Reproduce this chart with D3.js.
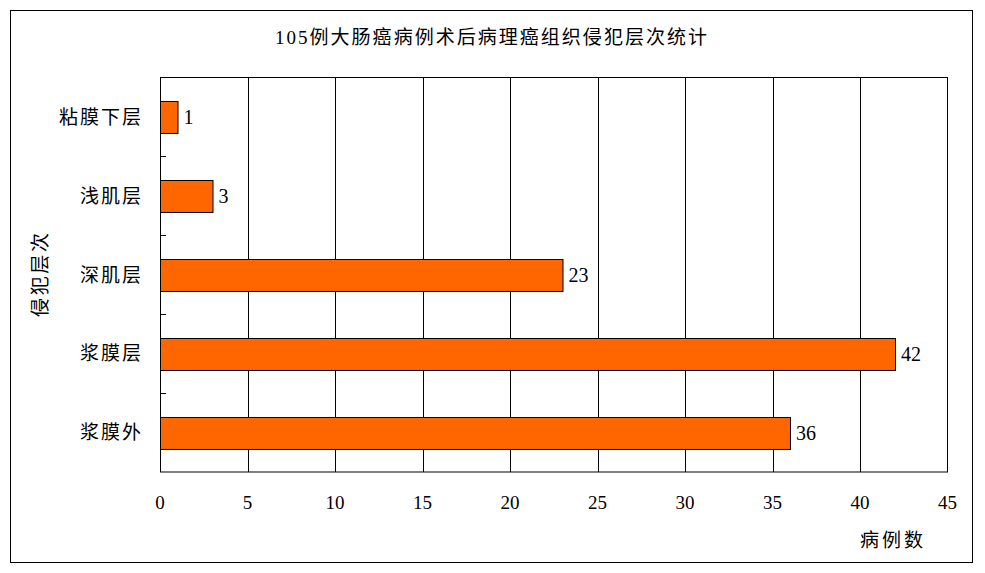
<!DOCTYPE html>
<html>
<head>
<meta charset="utf-8">
<script src="https://cdn.jsdelivr.net/npm/d3@7/dist/d3.min.js"></script>
<style>
    body { margin: 0; background: #fff; }
    text { font-family: "Liberation Serif", "Noto Sans CJK SC", serif; fill: #000; }
</style>
</head>
<body>
<div id="chart"></div>
<script>
var categories = ["粘膜下层", "浅肌层", "深肌层", "浆膜层", "浆膜外"];
var values = [1, 3, 23, 42, 36];
var xTicks = [0, 5, 10, 15, 20, 25, 30, 35, 40, 45];
var title = "105例大肠癌病例术后病理癌组织侵犯层次统计";

function init() {
    var w = 985;
    var h = 573;
    var left = 160, right = 947.5, top = 77.5, bottom = 472;

    var svg = d3.select("#chart")
        .append("svg")
        .attr("width", w)
        .attr("height", h);

    // outer frame
    svg.append("rect")
        .attr("x", 10.5).attr("y", 10.5)
        .attr("width", 962).attr("height", 552)
        .attr("fill", "none").attr("stroke", "#000");

    var xScale = d3.scaleLinear()
        .domain([0, 45])
        .range([left, right]);

    var yScale = d3.scaleBand()
        .domain(categories)
        .range([top, bottom])
        .paddingInner(0.595)
        .paddingOuter(0.2975);

    var band = (bottom - top) / categories.length;

    // vertical grid
    svg.selectAll(".grid")
        .data(xTicks.slice(1, -1))
        .enter()
        .append("line")
        .attr("x1", function (d) { return Math.round(xScale(d)) + 0.5; })
        .attr("x2", function (d) { return Math.round(xScale(d)) + 0.5; })
        .attr("y1", top).attr("y2", bottom)
        .attr("stroke", "#000");

    // plot frame
    svg.append("rect")
        .attr("x", left + 0.5).attr("y", top)
        .attr("width", right - left - 0.5).attr("height", bottom - top)
        .attr("fill", "none").attr("stroke", "#000");

    // category boundary ticks
    svg.selectAll(".ytick")
        .data(d3.range(1, categories.length))
        .enter()
        .append("line")
        .attr("x1", left).attr("x2", left + 6)
        .attr("y1", function (i) { return Math.round(top + i * band) + 0.5; })
        .attr("y2", function (i) { return Math.round(top + i * band) + 0.5; })
        .attr("stroke", "#000");

    // bars
    svg.selectAll(".bar")
        .data(values)
        .enter()
        .append("rect")
        .attr("x", xScale(0) + 0.5)
        .attr("y", function (d, i) { return Math.round(yScale(categories[i])) + 0.5; })
        .attr("width", function (d) { return xScale(d) - xScale(0); })
        .attr("height", yScale.bandwidth())
        .attr("fill", "#FF6600")
        .attr("stroke", "#000");

    // value labels
    svg.selectAll(".bar-label")
        .data(values)
        .enter()
        .append("text")
        .attr("x", function (d) { return xScale(d) + 6; })
        .attr("y", function (d, i) { return yScale(categories[i]) + yScale.bandwidth() / 2; })
        .attr("dy", "0.35em")
        .attr("font-size", "20px")
        .text(function (d) { return d; });

    // category labels
    svg.selectAll(".cat-label")
        .data(categories)
        .enter()
        .append("text")
        .attr("x", 143)
        .attr("y", function (d) { return yScale(d) + yScale.bandwidth() / 2; })
        .attr("dy", "0.36em")
        .attr("text-anchor", "end")
        .attr("font-size", "19px")
        .attr("letter-spacing", "2px")
        .text(function (d) { return d; });

    // x tick labels
    svg.selectAll(".x-label")
        .data(xTicks)
        .enter()
        .append("text")
        .attr("x", function (d) { return xScale(d); })
        .attr("y", 502)
        .attr("dy", "0.35em")
        .attr("text-anchor", "middle")
        .attr("font-size", "19px")
        .text(function (d) { return d; });

    // title
    svg.append("text")
        .attr("x", 275)
        .attr("y", 37)
        .attr("dy", "0.35em")
        .attr("font-size", "19px")
        .attr("textLength", 432)
        .attr("lengthAdjust", "spacing")
        .text(title);

    // axis titles
    svg.append("text")
        .attr("x", 860)
        .attr("y", 540)
        .attr("dy", "0.36em")
        .attr("font-size", "19px")
        .attr("textLength", 63)
        .attr("lengthAdjust", "spacing")
        .text("病例数");

    svg.append("text")
        .attr("transform", "translate(40,275) rotate(-90)")
        .attr("x", -42)
        .attr("dy", "0.36em")
        .attr("font-size", "19px")
        .attr("textLength", 84)
        .attr("lengthAdjust", "spacing")
        .text("侵犯层次");
}

window.onload = init;
</script>
</body>
</html>
